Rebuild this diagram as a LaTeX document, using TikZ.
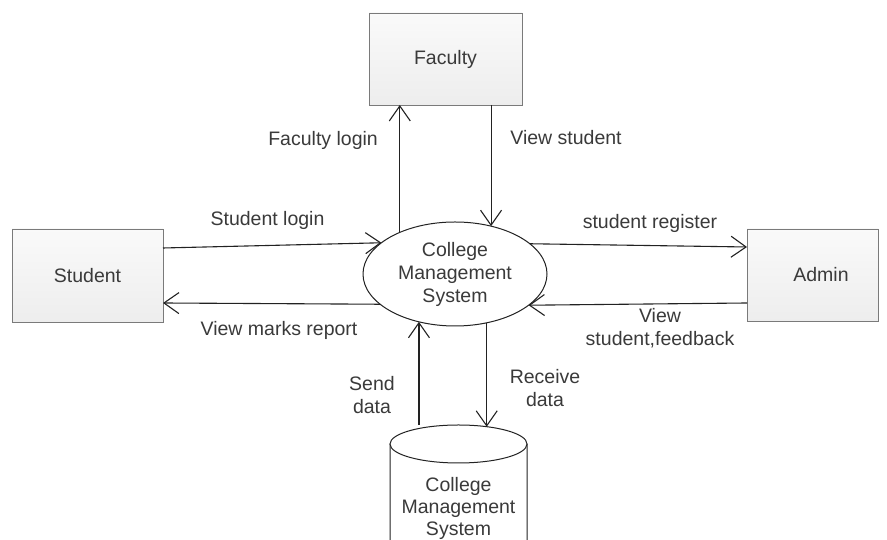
\documentclass[tikz,border=0pt]{standalone}
\usepackage{fontspec}
\setmainfont{Liberation Sans}
\usetikzlibrary{shapes.geometric,arrows.meta,calc}
\definecolor{txt}{HTML}{3A3A3A}
\definecolor{edge}{HTML}{7A7A7A}
\definecolor{ln}{HTML}{222222}
\tikzset{
  entity/.style={draw=edge, line width=0.9pt, top color=gray!4, bottom color=gray!14, inner sep=0pt, outer sep=0pt, text=txt},
  proc/.style={draw=ln, line width=1pt, ellipse, fill=white, inner sep=0pt, outer sep=0pt, minimum width=184pt, minimum height=104pt, align=center, text=txt},
  flow/.style={draw=ln, line width=1.1pt, -{Straight Barb[length=15pt,width=21pt,line width=1.1pt]}},
  lbl/.style={text=txt, align=center, inner sep=0pt},
}
\begin{document}
\begin{tikzpicture}[x=1pt,y=1pt,font=\fontsize{19.5}{23}\selectfont]
\useasboundingbox (0,0) rectangle (887,540);
\fill[white] (0,0) rectangle (887,540);
% entities
\node[entity, minimum width=153pt, minimum height=92pt] (faculty) at (445.5,481) {Faculty};
\node[entity, minimum width=151pt, minimum height=93pt] (student) at (87.5,264.5) {Student};
\node[entity, minimum width=131pt, minimum height=92pt,
      label={[text=txt, inner sep=0pt, xshift=8.5pt]center:Admin}] (admin) at (812.5,265) {};
% process
\node[proc] (cms) at (455,266) {College\\Management\\System};
% data store
\fill[white] (390,96) -- (390,-30) -- (527,-30) -- (527,96) -- cycle;
\draw[draw=ln, line width=1pt] (390,96) -- (390,-20) arc (180:360:68.5 and 19) -- (527,96);
\node[ellipse, draw=ln, line width=1pt, fill=white, minimum width=137pt, minimum height=38pt, inner sep=0pt, outer sep=0pt] (dbtop) at (458.5,96) {};
\node[lbl, font=\fontsize{19.5}{22}\selectfont] (db) at (458.5,32) {College\\Management\\System};
% flows
\draw[flow] (cms.143.6) -- (cms.143.6 |- faculty.south);
\draw[flow] (faculty.south -| cms.53.9) -- (cms.53.9);
\draw[flow] ($(student.east)+(0,27.5)$) -- (cms.157);
\draw[flow] (cms.202.7) -- ($(student.east)+(0,-27.5)$);
\draw[flow] (cms.22.7) -- ($(admin.west)+(0,28)$);
\draw[flow] ($(admin.west)+(0,-28)$) -- (cms.337.3);
\draw[flow] (cms.233.9 |- dbtop.north) -- (cms.233.9);
\draw[flow] (cms.303.3) -- (cms.303.3 |- dbtop.31.3);
% labels
\node[lbl, anchor=east] (l1) at (378,400) {Faculty login};
\node[lbl] (l2) at (566,402) {View student};
\node[lbl] (l3) at (267.5,320) {Student login};
\node[lbl] (l4) at (279,210) {View marks report};
\node[lbl] (l5) at (650,317) {student register};
\node[lbl] (l6) at (660,211.5) {View\\student,feedback};
\node[lbl] (l7) at (372,145) {Send\\data};
\node[lbl] (l8) at (545,152) {Receive\\data};
\end{tikzpicture}
\end{document}
